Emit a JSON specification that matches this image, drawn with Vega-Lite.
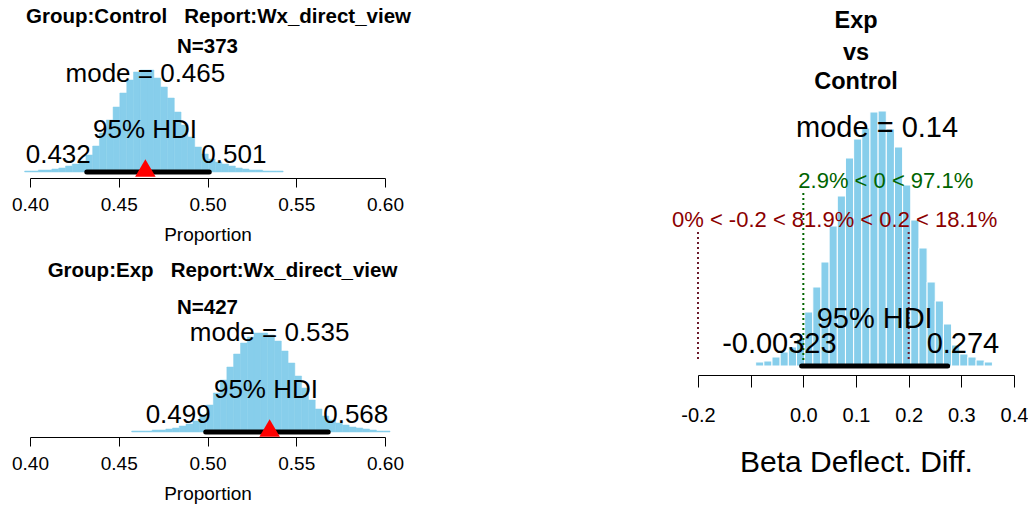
{
  "$schema": "https://vega.github.io/schema/vega-lite/v6.json",
  "padding": {"left": 11, "top": 0, "right": 0, "bottom": 0},
  "background": "white",
  "config": {
    "font": "Liberation Sans",
    "view": {"stroke": null},
    "axis": {"grid": false, "domainColor": "#000", "tickColor": "#000", "labelColor": "#000", "titleColor": "#000", "titleFontWeight": "normal", "labelFlush": false, "labelOverlap": false, "domainWidth": 1, "tickWidth": 1},
    "text": {"baseline": "alphabetic", "color": "#000"}
  },
  "datasets": {
    "ctrl_hist": [
      {"x0": 0.3970, "x1": 0.4008, "h": 1}, {"x0": 0.4008, "x1": 0.4047, "h": 1}, {"x0": 0.4047, "x1": 0.4085, "h": 2}, {"x0": 0.4085, "x1": 0.4123, "h": 2},
      {"x0": 0.4123, "x1": 0.4162, "h": 3}, {"x0": 0.4162, "x1": 0.4200, "h": 4}, {"x0": 0.4200, "x1": 0.4238, "h": 6}, {"x0": 0.4238, "x1": 0.4276, "h": 8},
      {"x0": 0.4276, "x1": 0.4315, "h": 11}, {"x0": 0.4315, "x1": 0.4353, "h": 17}, {"x0": 0.4353, "x1": 0.4391, "h": 26}, {"x0": 0.4391, "x1": 0.4430, "h": 39},
      {"x0": 0.4430, "x1": 0.4468, "h": 52}, {"x0": 0.4468, "x1": 0.4506, "h": 65}, {"x0": 0.4506, "x1": 0.4545, "h": 79}, {"x0": 0.4545, "x1": 0.4583, "h": 92},
      {"x0": 0.4583, "x1": 0.4621, "h": 100}, {"x0": 0.4621, "x1": 0.4659, "h": 102}, {"x0": 0.4659, "x1": 0.4698, "h": 102}, {"x0": 0.4698, "x1": 0.4736, "h": 94},
      {"x0": 0.4736, "x1": 0.4774, "h": 85}, {"x0": 0.4774, "x1": 0.4813, "h": 74}, {"x0": 0.4813, "x1": 0.4851, "h": 60}, {"x0": 0.4851, "x1": 0.4889, "h": 47},
      {"x0": 0.4889, "x1": 0.4928, "h": 35}, {"x0": 0.4928, "x1": 0.4966, "h": 25}, {"x0": 0.4966, "x1": 0.5004, "h": 18}, {"x0": 0.5004, "x1": 0.5043, "h": 13},
      {"x0": 0.5043, "x1": 0.5081, "h": 10}, {"x0": 0.5081, "x1": 0.5119, "h": 8}, {"x0": 0.5119, "x1": 0.5157, "h": 6}, {"x0": 0.5157, "x1": 0.5196, "h": 4},
      {"x0": 0.5196, "x1": 0.5234, "h": 3}, {"x0": 0.5234, "x1": 0.5272, "h": 2}, {"x0": 0.5272, "x1": 0.5311, "h": 2}, {"x0": 0.5311, "x1": 0.5349, "h": 1},
      {"x0": 0.5349, "x1": 0.5387, "h": 1}, {"x0": 0.5387, "x1": 0.5426, "h": 1}
    ],
    "exp_hist": [
      {"x0": 0.4573, "x1": 0.4611, "h": 1}, {"x0": 0.4611, "x1": 0.4650, "h": 1}, {"x0": 0.4650, "x1": 0.4688, "h": 1}, {"x0": 0.4688, "x1": 0.4726, "h": 2},
      {"x0": 0.4726, "x1": 0.4765, "h": 2}, {"x0": 0.4765, "x1": 0.4803, "h": 3}, {"x0": 0.4803, "x1": 0.4841, "h": 4}, {"x0": 0.4841, "x1": 0.4879, "h": 6},
      {"x0": 0.4879, "x1": 0.4918, "h": 8}, {"x0": 0.4918, "x1": 0.4956, "h": 11}, {"x0": 0.4956, "x1": 0.4994, "h": 17}, {"x0": 0.4994, "x1": 0.5033, "h": 27},
      {"x0": 0.5033, "x1": 0.5071, "h": 39}, {"x0": 0.5071, "x1": 0.5109, "h": 52}, {"x0": 0.5109, "x1": 0.5147, "h": 65}, {"x0": 0.5147, "x1": 0.5186, "h": 78},
      {"x0": 0.5186, "x1": 0.5224, "h": 89}, {"x0": 0.5224, "x1": 0.5262, "h": 95}, {"x0": 0.5262, "x1": 0.5301, "h": 99}, {"x0": 0.5301, "x1": 0.5339, "h": 99},
      {"x0": 0.5339, "x1": 0.5377, "h": 97}, {"x0": 0.5377, "x1": 0.5416, "h": 91}, {"x0": 0.5416, "x1": 0.5454, "h": 81}, {"x0": 0.5454, "x1": 0.5492, "h": 69},
      {"x0": 0.5492, "x1": 0.5530, "h": 56}, {"x0": 0.5530, "x1": 0.5569, "h": 44}, {"x0": 0.5569, "x1": 0.5607, "h": 32}, {"x0": 0.5607, "x1": 0.5645, "h": 23},
      {"x0": 0.5645, "x1": 0.5684, "h": 16}, {"x0": 0.5684, "x1": 0.5722, "h": 12}, {"x0": 0.5722, "x1": 0.5760, "h": 9}, {"x0": 0.5760, "x1": 0.5798, "h": 7},
      {"x0": 0.5798, "x1": 0.5837, "h": 5}, {"x0": 0.5837, "x1": 0.5875, "h": 4}, {"x0": 0.5875, "x1": 0.5913, "h": 3}, {"x0": 0.5913, "x1": 0.5952, "h": 2},
      {"x0": 0.5952, "x1": 0.5990, "h": 1}, {"x0": 0.5990, "x1": 0.6028, "h": 1}
    ],
    "diff_hist": [
      {"x0": -0.0905, "x1": -0.0750, "h": 4}, {"x0": -0.0750, "x1": -0.0595, "h": 5}, {"x0": -0.0595, "x1": -0.0440, "h": 9}, {"x0": -0.0440, "x1": -0.0285, "h": 14},
      {"x0": -0.0285, "x1": -0.0130, "h": 19}, {"x0": -0.0130, "x1": 0.0025, "h": 27}, {"x0": 0.0025, "x1": 0.0180, "h": 54}, {"x0": 0.0180, "x1": 0.0335, "h": 79},
      {"x0": 0.0335, "x1": 0.0490, "h": 104}, {"x0": 0.0490, "x1": 0.0645, "h": 140}, {"x0": 0.0645, "x1": 0.0800, "h": 170}, {"x0": 0.0800, "x1": 0.0955, "h": 208},
      {"x0": 0.0955, "x1": 0.1110, "h": 227}, {"x0": 0.1110, "x1": 0.1265, "h": 238}, {"x0": 0.1265, "x1": 0.1420, "h": 254}, {"x0": 0.1420, "x1": 0.1575, "h": 255},
      {"x0": 0.1575, "x1": 0.1730, "h": 237}, {"x0": 0.1730, "x1": 0.1885, "h": 219}, {"x0": 0.1885, "x1": 0.2040, "h": 181}, {"x0": 0.2040, "x1": 0.2195, "h": 146},
      {"x0": 0.2195, "x1": 0.2350, "h": 118}, {"x0": 0.2350, "x1": 0.2505, "h": 84}, {"x0": 0.2505, "x1": 0.2660, "h": 65}, {"x0": 0.2660, "x1": 0.2815, "h": 42},
      {"x0": 0.2815, "x1": 0.2970, "h": 21}, {"x0": 0.2970, "x1": 0.3125, "h": 12}, {"x0": 0.3125, "x1": 0.3280, "h": 9}, {"x0": 0.3280, "x1": 0.3435, "h": 6},
      {"x0": 0.3435, "x1": 0.3590, "h": 4}
    ],
    "ctrl_stats": [{"mode": 0.465, "lo": 0.432, "hi": 0.501, "mid": 0.4665, "mode_lab": "mode = 0.465", "lo_lab": "0.432", "hi_lab": "0.501", "hdi_lab": "95% HDI", "n_lab": "N=373", "title_lab": "Group:Control\u00a0\u00a0\u00a0Report:Wx_direct_view"}],
    "exp_stats": [{"mode": 0.535, "lo": 0.499, "hi": 0.568, "mid": 0.5335, "mode_lab": "mode = 0.535", "lo_lab": "0.499", "hi_lab": "0.568", "hdi_lab": "95% HDI", "n_lab": "N=427", "title_lab": "Group:Exp\u00a0\u00a0\u00a0Report:Wx_direct_view"}],
    "diff_stats": [{"mode": 0.14, "lo": -0.00323, "hi": 0.274, "mid": 0.1354, "mode_lab": "mode = 0.14", "lo_lab": "-0.00323", "hi_lab": "0.274", "hdi_lab": "95% HDI", "comp": 0, "comp_lab": "2.9% < 0 < 97.1%", "rope_lo": -0.2, "rope_lab": "0% < -0.2 < 81.9% < 0.2 < 18.1%", "t1": "Exp", "t2": "vs", "t3": "Control"}],
    "diff_rope": [{"v": -0.2}, {"v": 0.2}]
  },
  "hconcat": [
    {
      "vconcat": [
        {
          "width": 355,
          "height": 178,
          "layer": [
            {
              "data": {"name": "ctrl_hist"},
              "mark": {"type": "rect", "color": "#87CEEB", "stroke": "#87CEEB", "strokeWidth": 0.5},
              "encoding": {
                "x": {"field": "x0", "type": "quantitative", "scale": {"domain": [0.4, 0.6], "nice": false, "zero": false},
                      "axis": {"values": [0.4, 0.45, 0.5, 0.55, 0.6], "format": ".2f", "tickSize": 9, "labelFontSize": 19, "labelPadding": 8.5, "titleFontSize": 19, "titlePadding": 11}, "title": "Proportion"},
                "x2": {"field": "x1"},
                "y": {"field": "h", "type": "quantitative", "scale": {"domain": [-6, 172], "nice": false, "zero": false}, "axis": null},
                "y2": {"datum": 0}
              }
            },
            {
              "data": {"name": "ctrl_stats"},
              "layer": [
                {"mark": {"type": "rule", "color": "#000", "strokeWidth": 5, "strokeCap": "round"},
                 "encoding": {"x": {"field": "lo", "type": "quantitative", "title": "Proportion"}, "x2": {"field": "hi"}, "y": {"datum": 0, "type": "quantitative", "axis": null}}},
                {"mark": {"type": "point", "shape": "triangle-up", "filled": true, "color": "#FF0000", "opacity": 1, "size": 420},
                 "encoding": {"x": {"field": "mode", "type": "quantitative", "title": "Proportion"}, "y": {"datum": 4, "type": "quantitative", "axis": null}}},
                {"mark": {"type": "text", "fontSize": 26, "align": "center"},
                 "encoding": {"x": {"field": "mode", "type": "quantitative", "title": "Proportion"}, "y": {"datum": 90.3, "type": "quantitative", "axis": null}, "text": {"field": "mode_lab"}}},
                {"mark": {"type": "text", "fontSize": 26, "align": "center", "dx": -3},
                 "encoding": {"x": {"field": "mid", "type": "quantitative", "title": "Proportion"}, "y": {"datum": 33.7, "type": "quantitative", "axis": null}, "text": {"field": "hdi_lab"}}},
                {"mark": {"type": "text", "fontSize": 26, "align": "right", "dx": 4},
                 "encoding": {"x": {"field": "lo", "type": "quantitative", "title": "Proportion"}, "y": {"datum": 8.7, "type": "quantitative", "axis": null}, "text": {"field": "lo_lab"}}},
                {"mark": {"type": "text", "fontSize": 26, "align": "left", "dx": -8},
                 "encoding": {"x": {"field": "hi", "type": "quantitative", "title": "Proportion"}, "y": {"datum": 8.7, "type": "quantitative", "axis": null}, "text": {"field": "hi_lab"}}},
                {"mark": {"type": "text", "fontSize": 20.5, "fontWeight": "bold", "align": "center"},
                 "encoding": {"x": {"datum": 0.5, "type": "quantitative", "title": "Proportion"}, "y": {"datum": 118.7, "type": "quantitative", "axis": null}, "text": {"field": "n_lab"}}},
                {"mark": {"type": "text", "fontSize": 20.5, "fontWeight": "bold", "align": "center", "dx": 11},
                 "encoding": {"x": {"datum": 0.5, "type": "quantitative", "title": "Proportion"}, "y": {"datum": 148.7, "type": "quantitative", "axis": null}, "text": {"field": "title_lab"}}}
              ]
            }
          ]
        },
        {
          "width": 355,
          "height": 187,
          "layer": [
            {
              "data": {"name": "exp_hist"},
              "mark": {"type": "rect", "color": "#87CEEB", "stroke": "#87CEEB", "strokeWidth": 0.5},
              "encoding": {
                "x": {"field": "x0", "type": "quantitative", "scale": {"domain": [0.4, 0.6], "nice": false, "zero": false},
                      "axis": {"values": [0.4, 0.45, 0.5, 0.55, 0.6], "format": ".2f", "tickSize": 9, "labelFontSize": 19, "labelPadding": 8.5, "titleFontSize": 19, "titlePadding": 11}, "title": "Proportion"},
                "x2": {"field": "x1"},
                "y": {"field": "h", "type": "quantitative", "scale": {"domain": [-5, 182], "nice": false, "zero": false}, "axis": null},
                "y2": {"datum": 0}
              }
            },
            {
              "data": {"name": "exp_stats"},
              "layer": [
                {"mark": {"type": "rule", "color": "#000", "strokeWidth": 5, "strokeCap": "round"},
                 "encoding": {"x": {"field": "lo", "type": "quantitative", "title": "Proportion"}, "x2": {"field": "hi"}, "y": {"datum": 0, "type": "quantitative", "axis": null}}},
                {"mark": {"type": "point", "shape": "triangle-up", "filled": true, "color": "#FF0000", "opacity": 1, "size": 420},
                 "encoding": {"x": {"field": "mode", "type": "quantitative", "title": "Proportion"}, "y": {"datum": 4, "type": "quantitative", "axis": null}}},
                {"mark": {"type": "text", "fontSize": 26, "align": "center"},
                 "encoding": {"x": {"field": "mode", "type": "quantitative", "title": "Proportion"}, "y": {"datum": 91.3, "type": "quantitative", "axis": null}, "text": {"field": "mode_lab"}}},
                {"mark": {"type": "text", "fontSize": 26, "align": "center", "dx": -1},
                 "encoding": {"x": {"field": "mid", "type": "quantitative", "title": "Proportion"}, "y": {"datum": 33.7, "type": "quantitative", "axis": null}, "text": {"field": "hdi_lab"}}},
                {"mark": {"type": "text", "fontSize": 26, "align": "right", "dx": 5},
                 "encoding": {"x": {"field": "lo", "type": "quantitative", "title": "Proportion"}, "y": {"datum": 8.7, "type": "quantitative", "axis": null}, "text": {"field": "lo_lab"}}},
                {"mark": {"type": "text", "fontSize": 26, "align": "left", "dx": -5},
                 "encoding": {"x": {"field": "hi", "type": "quantitative", "title": "Proportion"}, "y": {"datum": 8.7, "type": "quantitative", "axis": null}, "text": {"field": "hi_lab"}}},
                {"mark": {"type": "text", "fontSize": 20.5, "fontWeight": "bold", "align": "center"},
                 "encoding": {"x": {"datum": 0.5, "type": "quantitative", "title": "Proportion"}, "y": {"datum": 118, "type": "quantitative", "axis": null}, "text": {"field": "n_lab"}}},
                {"mark": {"type": "text", "fontSize": 20.5, "fontWeight": "bold", "align": "center", "dx": 15},
                 "encoding": {"x": {"datum": 0.5, "type": "quantitative", "title": "Proportion"}, "y": {"datum": 155.3, "type": "quantitative", "axis": null}, "text": {"field": "title_lab"}}}
              ]
            }
          ]
        }
      ],
      "spacing": 5
    },
    {
      "width": 316,
      "height": 375,
      "layer": [
        {
          "data": {"name": "diff_hist"},
          "mark": {"type": "rect", "color": "#87CEEB", "stroke": "#FFFFFF", "strokeWidth": 1},
          "encoding": {
            "x": {"field": "x0", "type": "quantitative", "scale": {"domain": [-0.2, 0.4], "nice": false, "zero": false},
                  "axis": {"values": [-0.2, -0.1, 0, 0.1, 0.2, 0.3, 0.4], "labelExpr": "abs(datum.value + 0.1) < 1e-9 ? '' : replace(format(datum.value, '.1f'), '\u2212', '-')", "tickSize": 12, "labelFontSize": 20, "labelPadding": 18, "titleFontSize": 30, "titlePadding": 22}, "title": "Beta Deflect. Diff."},
            "x2": {"field": "x1"},
            "y": {"field": "h", "type": "quantitative", "scale": {"domain": [-9, 366], "nice": false, "zero": false}, "axis": null},
            "y2": {"datum": 0}
          }
        },
        {
          "data": {"name": "diff_stats"},
          "mark": {"type": "rule", "color": "#006400", "strokeWidth": 2, "strokeDash": [2, 3]},
          "encoding": {"x": {"field": "comp", "type": "quantitative", "title": "Beta Deflect. Diff."}, "y": {"datum": 173, "type": "quantitative", "axis": null}, "y2": {"datum": 6}}
        },
        {
          "data": {"name": "diff_rope"},
          "mark": {"type": "rule", "color": "#6B1A2A", "strokeWidth": 2, "strokeDash": [2, 3]},
          "encoding": {"x": {"field": "v", "type": "quantitative", "title": "Beta Deflect. Diff."}, "y": {"datum": 134, "type": "quantitative", "axis": null}, "y2": {"datum": 6}}
        },
        {
          "data": {"name": "diff_stats"},
          "layer": [
            {"mark": {"type": "rule", "color": "#000", "strokeWidth": 5, "strokeCap": "round"},
             "encoding": {"x": {"field": "lo", "type": "quantitative", "title": "Beta Deflect. Diff."}, "x2": {"field": "hi"}, "y": {"datum": 0, "type": "quantitative", "axis": null}}},
            {"mark": {"type": "text", "fontSize": 29, "align": "center"},
             "encoding": {"x": {"field": "mode", "type": "quantitative", "title": "Beta Deflect. Diff."}, "y": {"datum": 229.3, "type": "quantitative", "axis": null}, "text": {"field": "mode_lab"}}},
            {"mark": {"type": "text", "fontSize": 29, "align": "center"},
             "encoding": {"x": {"field": "mid", "type": "quantitative", "title": "Beta Deflect. Diff."}, "y": {"datum": 37.7, "type": "quantitative", "axis": null}, "text": {"field": "hdi_lab"}}},
            {"mark": {"type": "text", "fontSize": 29, "align": "right", "dx": 35},
             "encoding": {"x": {"field": "lo", "type": "quantitative", "title": "Beta Deflect. Diff."}, "y": {"datum": 12.7, "type": "quantitative", "axis": null}, "text": {"field": "lo_lab"}}},
            {"mark": {"type": "text", "fontSize": 29, "align": "left", "dx": -21},
             "encoding": {"x": {"field": "hi", "type": "quantitative", "title": "Beta Deflect. Diff."}, "y": {"datum": 12.7, "type": "quantitative", "axis": null}, "text": {"field": "hi_lab"}}},
            {"mark": {"type": "text", "fontSize": 22, "align": "left", "dx": -5, "color": "#006400"},
             "encoding": {"x": {"field": "comp", "type": "quantitative", "title": "Beta Deflect. Diff."}, "y": {"datum": 177.7, "type": "quantitative", "axis": null}, "text": {"field": "comp_lab"}}},
            {"mark": {"type": "text", "fontSize": 22, "align": "left", "dx": -26, "color": "#8B0000"},
             "encoding": {"x": {"field": "rope_lo", "type": "quantitative", "title": "Beta Deflect. Diff."}, "y": {"datum": 139.3, "type": "quantitative", "axis": null}, "text": {"field": "rope_lab"}}},
            {"mark": {"type": "text", "fontSize": 23.5, "fontWeight": "bold", "align": "center"},
             "encoding": {"x": {"datum": 0.1, "type": "quantitative", "title": "Beta Deflect. Diff."}, "y": {"datum": 337.7, "type": "quantitative", "axis": null}, "text": {"field": "t1"}}},
            {"mark": {"type": "text", "fontSize": 23.5, "fontWeight": "bold", "align": "center"},
             "encoding": {"x": {"datum": 0.1, "type": "quantitative", "title": "Beta Deflect. Diff."}, "y": {"datum": 306.5, "type": "quantitative", "axis": null}, "text": {"field": "t2"}}},
            {"mark": {"type": "text", "fontSize": 23.5, "fontWeight": "bold", "align": "center"},
             "encoding": {"x": {"datum": 0.1, "type": "quantitative", "title": "Beta Deflect. Diff."}, "y": {"datum": 276.7, "type": "quantitative", "axis": null}, "text": {"field": "t3"}}}
          ]
        }
      ]
    }
  ],
  "spacing": 261
}
